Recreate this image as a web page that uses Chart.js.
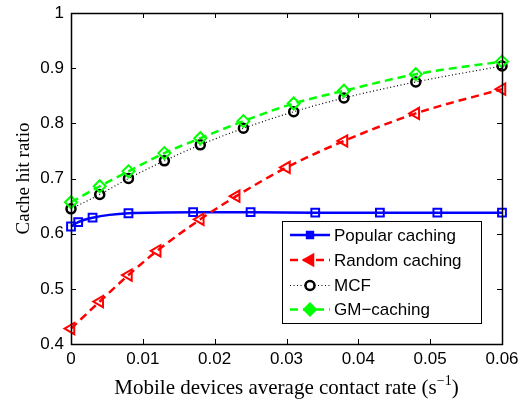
<!DOCTYPE html>
<html>
<head>
<meta charset="utf-8">
<script src="https://cdn.jsdelivr.net/npm/chart.js@4.4.1/dist/chart.umd.min.js"></script>
<style>
  html, body { margin: 0; padding: 0; background: #fff; }
  #wrap { width: 526px; height: 405px; }
</style>
</head>
<body>
<div id="wrap"><canvas id="hitChart" width="526" height="405"></canvas></div>
<script>
// Data
const seriesNames = ['Popular caching', 'Random caching', 'MCF', 'GM\u2212caching'];
const popularX = [0, 0.001, 0.003, 0.008, 0.017, 0.025, 0.034, 0.043, 0.051, 0.06];
const popularY = [0.613, 0.621, 0.629, 0.637, 0.639, 0.639, 0.638, 0.638, 0.638, 0.638];
const randomX = [0, 0.004, 0.008, 0.012, 0.018, 0.023, 0.030, 0.038, 0.048, 0.06];
const randomY = [0.428, 0.477, 0.525, 0.569, 0.626, 0.668, 0.720, 0.768, 0.818, 0.862];
const mcfX = [0, 0.004, 0.008, 0.013, 0.018, 0.024, 0.031, 0.038, 0.048, 0.06];
const mcfY = [0.645, 0.671, 0.700, 0.732, 0.761, 0.791, 0.821, 0.846, 0.875, 0.904];
const gmX = [0, 0.004, 0.008, 0.013, 0.018, 0.024, 0.031, 0.038, 0.048, 0.06];
const gmY = [0.657, 0.686, 0.713, 0.746, 0.773, 0.804, 0.836, 0.859, 0.889, 0.912];
const xTickLabels = ['0', '0.01', '0.02', '0.03', '0.04', '0.05', '0.06'];
const yTickLabels = ['0.4', '0.5', '0.6', '0.7', '0.8', '0.9', '1'];

const toPoints = (xs, ys) => xs.map((x, i) => ({ x: x, y: ys[i] }));

const sans = 'Arial, "Liberation Sans", Helvetica, sans-serif';
const serif = '"Times New Roman", "Liberation Serif", serif';

const datasets = [
    {
        label: seriesNames[0],
        data: toPoints(popularX, popularY),
        borderColor: '#0000ff',
        borderWidth: 2.5,
        pointStyle: 'rect',
        pointRadius: 5.5,
        pointBorderWidth: 2,
        pointBackgroundColor: 'rgba(0,0,0,0)',
        order: 3
    },
    {
        label: seriesNames[1],
        data: toPoints(randomX, randomY),
        borderColor: '#ff0000',
        borderWidth: 2.5,
        borderDash: [8, 5],
        pointStyle: 'triangle',
        rotation: -90,
        pointRadius: 6.5,
        pointBorderWidth: 2,
        pointBackgroundColor: 'rgba(0,0,0,0)',
        order: 2
    },
    {
        label: seriesNames[2],
        data: toPoints(mcfX, mcfY),
        borderColor: '#000000',
        borderWidth: 1.2,
        borderDash: [1, 2.5],
        pointStyle: 'circle',
        pointRadius: 4.5,
        pointBorderWidth: 2.5,
        pointBackgroundColor: 'rgba(0,0,0,0)',
        order: 1
    },
    {
        label: seriesNames[3],
        data: toPoints(gmX, gmY),
        borderColor: '#00ff00',
        borderWidth: 2.5,
        borderDash: [8, 5],
        pointStyle: 'rectRot',
        pointRadius: 6,
        pointBorderWidth: 2,
        pointBackgroundColor: 'rgba(0,0,0,0)',
        order: 0
    }
];

// MATLAB style box with inward ticks on all four sides
const boxTicks = {
    id: 'boxTicks',
    afterDatasetsDraw(chart) {
        const { ctx, chartArea: a, scales } = chart;
        ctx.save();
        ctx.strokeStyle = '#000';
        ctx.lineWidth = 1;
        ctx.beginPath();
        scales.x.ticks.forEach(t => {
            const px = Math.round(scales.x.getPixelForValue(t.value)) + 0.5;
            ctx.moveTo(px, a.bottom); ctx.lineTo(px, a.bottom - 5);
            ctx.moveTo(px, a.top); ctx.lineTo(px, a.top + 5);
        });
        scales.y.ticks.forEach(t => {
            const py = Math.round(scales.y.getPixelForValue(t.value)) + 0.5;
            ctx.moveTo(a.left, py); ctx.lineTo(a.left + 5, py);
            ctx.moveTo(a.right, py); ctx.lineTo(a.right - 5, py);
        });
        ctx.stroke();
        ctx.lineWidth = 1.5;
        ctx.strokeRect(Math.round(a.left) + 0.5, Math.round(a.top) + 0.5,
            Math.round(a.right - a.left), Math.round(a.bottom - a.top));

        // x axis title with superscript
        const yT = 394;
        ctx.fillStyle = '#000';
        ctx.textBaseline = 'alphabetic';
        ctx.font = '21px ' + serif;
        const main = 'Mobile devices average contact rate (s';
        const sup = '\u22121';
        const wMain = ctx.measureText(main).width;
        ctx.font = '14px ' + serif;
        const wSup = ctx.measureText(sup).width;
        ctx.font = '21px ' + serif;
        const wEnd = ctx.measureText(')').width;
        const x0 = (a.left + a.right) / 2 - (wMain + wSup + wEnd) / 2;
        ctx.fillText(main, x0, yT);
        ctx.font = '14px ' + serif;
        ctx.fillText(sup, x0 + wMain, yT - 9);
        ctx.font = '21px ' + serif;
        ctx.fillText(')', x0 + wMain + wSup, yT);
        ctx.restore();
    }
};

// legend box drawn inside the plot, like the figure
const boxLegend = {
    id: 'boxLegend',
    afterDraw(chart) {
        const { ctx } = chart;
        const left = 282, top = 221, w = 199, h = 102;
        const rowsY = [235, 260, 285.5, 309.5];
        ctx.save();
        ctx.fillStyle = '#fff';
        ctx.fillRect(left, top, w, h);
        ctx.strokeStyle = '#000';
        ctx.lineWidth = 1;
        ctx.strokeRect(left + 0.5, top + 0.5, w, h);
        datasets.forEach((ds, i) => {
            const y = rowsY[i];
            ctx.save();
            ctx.strokeStyle = ds.borderColor;
            ctx.lineWidth = ds.borderWidth;
            ctx.setLineDash(ds.borderDash || []);
            ctx.beginPath();
            ctx.moveTo(290, y);
            ctx.lineTo(330, y);
            ctx.stroke();
            ctx.restore();
            ctx.save();
            ctx.setLineDash([]);
            ctx.strokeStyle = ds.borderColor;
            ctx.fillStyle = i === 2 ? '#fff' : ds.borderColor;
            ctx.lineWidth = ds.pointBorderWidth;
            Chart.helpers.drawPoint(ctx, {
                pointStyle: ds.pointStyle,
                rotation: ds.rotation || 0,
                radius: i === 0 ? 4.5 : ds.pointRadius,
                borderWidth: ds.pointBorderWidth
            }, 310, y);
            ctx.restore();
            ctx.fillStyle = '#000';
            ctx.font = '17px ' + sans;
            ctx.textBaseline = 'middle';
            ctx.fillText(ds.label, 334, y + 1);
        });
        ctx.restore();
    }
};

new Chart(document.getElementById('hitChart'), {
    type: 'line',
    data: { datasets: datasets.map(d => Object.assign({ clip: false, fill: false, cubicInterpolationMode: 'monotone' }, d)) },
    options: {
        responsive: false,
        animation: false,
        devicePixelRatio: 1,
        layout: { padding: { top: 13, right: 24, left: 0, bottom: 0 } },
        plugins: {
            legend: { display: false },
            tooltip: { enabled: false }
        },
        scales: {
            x: {
                type: 'linear',
                min: 0,
                max: 0.06,
                border: { display: false },
                grid: { display: false, drawTicks: false },
                afterFit: s => { s.height = 61; s.paddingLeft = 0; s.paddingRight = 0; },
                afterBuildTicks: s => { s.ticks = xTickLabels.map(v => ({ value: parseFloat(v) })); },
                ticks: {
                    color: '#000',
                    font: { family: sans, size: 17 },
                    padding: 5,
                    maxRotation: 0,
                    autoSkip: false,
                    callback: (v, i) => xTickLabels[i]
                }
            },
            y: {
                type: 'linear',
                min: 0.4,
                max: 1,
                border: { display: false },
                grid: { display: false, drawTicks: false },
                afterFit: s => { s.width = 71; s.paddingTop = 0; s.paddingBottom = 0; },
                afterBuildTicks: s => { s.ticks = yTickLabels.map(v => ({ value: parseFloat(v) })); },
                ticks: {
                    color: '#000',
                    font: { family: sans, size: 17 },
                    padding: 7,
                    autoSkip: false,
                    callback: (v, i) => yTickLabels[i]
                },
                title: {
                    display: true,
                    text: 'Cache hit ratio',
                    color: '#000',
                    font: { family: serif, size: 19, weight: 'normal' },
                    padding: { top: 13, bottom: 0 }
                }
            }
        }
    },
    plugins: [boxTicks, boxLegend]
});
</script>
</body>
</html>
